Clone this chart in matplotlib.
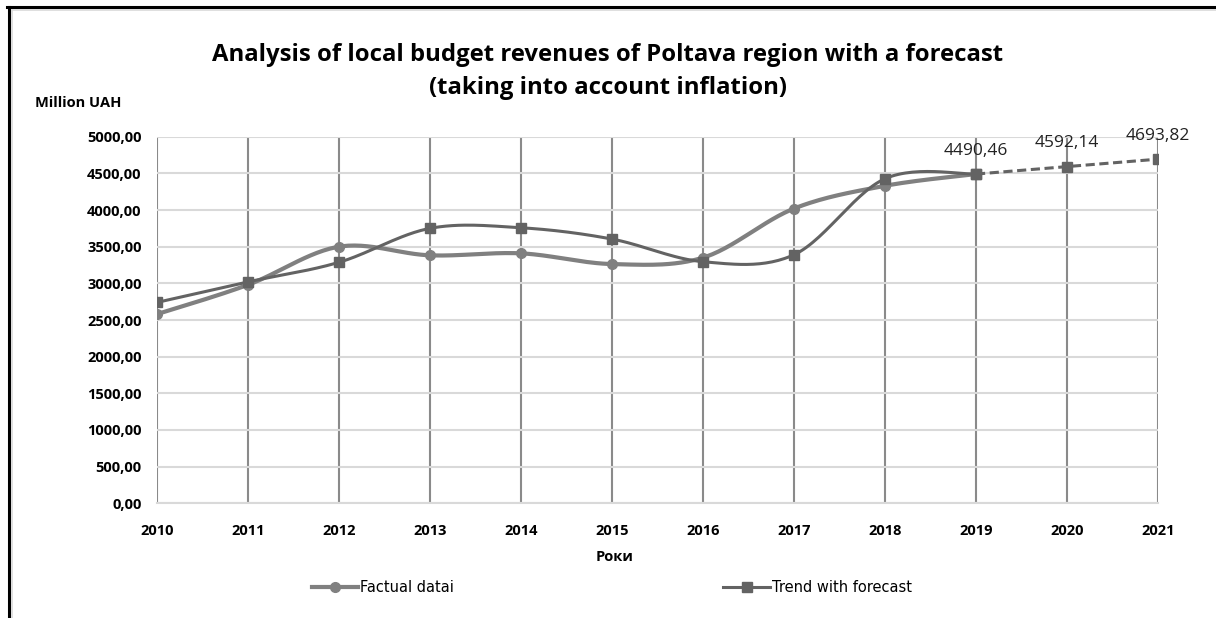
import numpy as np
import matplotlib
matplotlib.use("Agg")
import matplotlib.pyplot as plt
from matplotlib.lines import Line2D

years = [2010, 2011, 2012, 2013, 2014, 2015, 2016, 2017, 2018, 2019, 2020, 2021]
factual = [2580, 2980, 3500, 3382, 3409, 3263, 3350, 4020, 4330, 4490.46]
trend = [2740, 3020, 3287, 3750, 3758, 3604, 3295, 3390, 4427, 4490.46]
forecast_years = [2019, 2020, 2021]
forecast = [4490.46, 4592.14, 4693.82]
forecast_labels = ["4490,46", "4592,14", "4693,82"]
yticks = [0, 500, 1000, 1500, 2000, 2500, 3000, 3500, 4000, 4500, 5000]

c_fact = "#808080"
c_trend = "#636363"


def smooth(xs, ys, n=30):
    # excel-like smoothed line: bezier segments, control points from neighbours
    xs = np.asarray(xs, float)
    ys = np.asarray(ys, float)
    px = np.concatenate([[xs[0]], xs, [xs[-1]]])
    py = np.concatenate([[ys[0]], ys, [ys[-1]]])
    outx, outy = [], []
    t = np.linspace(0, 1, n)
    for i in range(1, len(px) - 2):
        p0 = np.array([px[i], py[i]])
        p3 = np.array([px[i + 1], py[i + 1]])
        p1 = p0 + (np.array([px[i + 1], py[i + 1]]) - np.array([px[i - 1], py[i - 1]])) / 6
        p2 = p3 - (np.array([px[i + 2], py[i + 2]]) - np.array([px[i], py[i]])) / 6
        b = ((1 - t) ** 3)[:, None] * p0 + (3 * (1 - t) ** 2 * t)[:, None] * p1 \
            + (3 * (1 - t) * t ** 2)[:, None] * p2 + (t ** 3)[:, None] * p3
        outx.extend(b[:, 0])
        outy.extend(b[:, 1])
    return outx, outy


fig = plt.figure(figsize=(12.16, 6.18), dpi=100)
ax = fig.add_axes([0.1291, 0.1856, 0.8232, 0.5932])

ax.set_xlim(years[0], years[-1])
ax.set_ylim(0, 5000)
ax.set_yticks(yticks)
ax.set_yticklabels([f"{v},00" for v in yticks])
ax.set_xticks(years)
ax.set_xticklabels([str(y) for y in years])
ax.grid(axis="y", color="#d9d9d9", lw=1.5)
ax.grid(axis="x", color="#8a8a8a", lw=1.5)
ax.set_axisbelow(True)
for s in ["top", "right", "left"]:
    ax.spines[s].set_visible(False)
ax.spines["bottom"].set_color("#d9d9d9")
ax.spines["bottom"].set_linewidth(1.5)
ax.tick_params(length=0)
ax.tick_params(axis="x", pad=15)
ax.tick_params(axis="y", pad=11)
for lab in ax.get_xticklabels() + ax.get_yticklabels():
    lab.set_fontfamily("Open Sans")
    lab.set_fontweight("bold")
    lab.set_fontsize(10.5)

fx = years[:len(factual)]
sx, sy = smooth(fx, factual)
ax.plot(sx, sy, color=c_fact, lw=3, solid_capstyle="round", zorder=3)
ax.plot(fx, factual, "o", color=c_fact, ms=7, zorder=4)

tx = years[:len(trend)]
sx, sy = smooth(tx, trend)
ax.plot(sx, sy, color=c_trend, lw=2.2, zorder=5)
ax.plot(tx, trend, "s", color=c_trend, ms=7, zorder=6)
ax.plot(forecast_years, forecast, "--", color=c_trend, lw=2.2, dashes=(3, 1.5), zorder=5)
ax.plot(forecast_years, forecast, "s", color=c_trend, ms=7, zorder=6)
for x, y, s in zip(forecast_years, forecast, forecast_labels):
    ax.annotate(s, (x, y), xytext=(0, 11), textcoords="offset points",
                ha="center", va="bottom", fontsize=12.5, family="Open Sans", color="#222222")

fig.text(0.5, 0.885, "Analysis of local budget revenues of Poltava region with a forecast\n(taking into account inflation)",
         ha="center", va="center", fontsize=17.2, fontweight="bold", family="Open Sans", linespacing=1.5)
fig.text(0.029, 0.833, "Million UAH", ha="left", va="center", fontsize=10.5,
         fontweight="bold", family="Open Sans")
fig.text(0.505, 0.099, "Роки", ha="center", va="center", fontsize=10.5,
         fontweight="bold", family="Open Sans")

handles = [Line2D([], [], color=c_fact, lw=3, marker="o", ms=7),
           Line2D([], [], color=c_trend, lw=2.2, marker="s", ms=7)]
fig.legend(handles, ["Factual datai", "Trend with forecast"], loc="center",
           bbox_to_anchor=(0.503, 0.049), ncol=2, frameon=False, handlelength=3.2,
           handletextpad=0.1, columnspacing=18.5, prop={"family": "Liberation Sans Narrow", "size": 10.5})

# outer frame like the pasted excel chart
fig.add_artist(Line2D([0.0075, 0.0075], [0, 0.988], transform=fig.transFigure, color="black", lw=2.2))
fig.add_artist(Line2D([0.006, 1.0], [0.988, 0.988], transform=fig.transFigure, color="black", lw=2.2))
fig.add_artist(Line2D([0.0098, 0.0098], [0, 0.984], transform=fig.transFigure, color="#d9d9d9", lw=1.2))
fig.add_artist(Line2D([0.0098, 1.0], [0.984, 0.984], transform=fig.transFigure, color="#d9d9d9", lw=1.2))

fig.savefig("out.png", dpi=100)
